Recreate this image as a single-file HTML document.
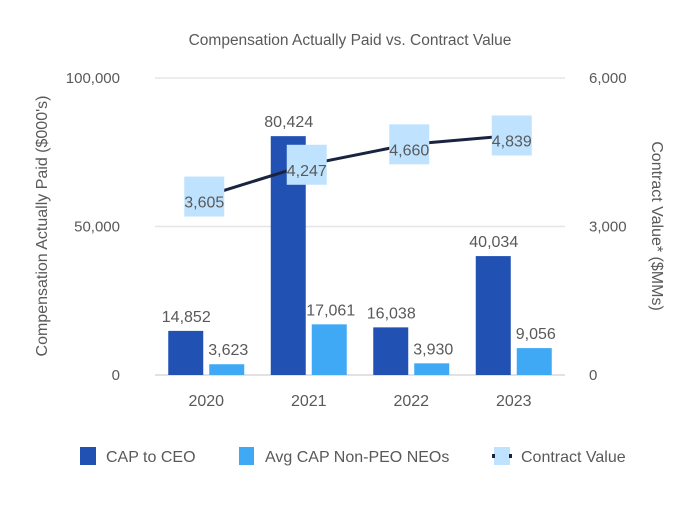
<!DOCTYPE html>
<html><head><meta charset="utf-8"><style>
body{margin:0;background:#fff;}
svg text{font-family:"Liberation Sans",sans-serif;fill:#595959;}
</style></head><body>
<svg id="c" width="700" height="500">
<text x="350" y="45" text-anchor="middle" font-size="15.5">Compensation Actually Paid vs. Contract Value</text>
<text transform="translate(47,226) rotate(-90)" text-anchor="middle" font-size="16">Compensation Actually Paid ($000's)</text>
<text transform="translate(652,226) rotate(90)" text-anchor="middle" font-size="16">Contract Value* ($MMs)</text>
<g id="grid"></g><g id="bars"></g><g id="line"></g><g id="labels"></g>
<g>
<rect x="80" y="447" width="16" height="18" fill="#2152b3"/>
<text x="106" y="462" font-size="16">CAP to CEO</text>
<rect x="239" y="447" width="15" height="18" fill="#3fa9f5"/>
<text x="265" y="462" font-size="16">Avg CAP Non-PEO NEOs</text>
<rect x="494" y="447" width="16" height="18" fill="#bfe3ff"/>
<rect x="492" y="454" width="3" height="4" fill="#1a2340"/>
<rect x="509" y="454" width="3" height="4" fill="#1a2340"/>
<text x="521" y="462" font-size="16">Contract Value</text>
</g>
</svg>
<script>
const categories=["2020","2021","2022","2023"];
const ceo=[14852,80424,16038,40034];
const neo=[3623,17061,3930,9056];
const contract=[3605,4247,4660,4839];
const leftTicks=[0,50000,100000];
const rightTicks=[0,3000,6000];
const NS="http://www.w3.org/2000/svg";
const x0=155,x1=565,yb=375,yt=78,band=(x1-x0)/categories.length;
const yL=v=>yb-(v/100000)*(yb-yt);
const yR=v=>yb-(v/6000)*(yb-yt);
const cx=i=>x0+band*(i+0.5);
const fmt=v=>v.toLocaleString("en-US");
function mk(tag,attrs,parent,txt){const e=document.createElementNS(NS,tag);for(const k in attrs)e.setAttribute(k,attrs[k]);if(txt!=null)e.textContent=txt;document.getElementById(parent).appendChild(e);return e;}
leftTicks.forEach((t,i)=>{
 const g=mk("line",{x1:x0,x2:x1,y1:yL(t),y2:yL(t),stroke:t===0?"#d9d9d9":"#e6e6e6","stroke-width":1.5},"grid");
 
 
 const l=mk("text",{x:120,y:yL(t)+5,"text-anchor":"end","font-size":15},"grid",fmt(t));
 
 
});
rightTicks.forEach(t=>{
 const l=mk("text",{x:589,y:yR(t)+5,"text-anchor":"start","font-size":15},"grid",fmt(t));
 
 
});
categories.forEach((c,i)=>{
 const l=mk("text",{x:cx(i),y:406,"text-anchor":"middle","font-size":16},"grid",c);
 
 
 const b1=mk("rect",{x:cx(i)-38,y:yL(ceo[i]),width:35,height:yb-yL(ceo[i]),fill:"#2152b3"},"bars");
 
 
 const t1=mk("text",{x:cx(i)-20,y:yL(ceo[i])-9,"text-anchor":"middle","font-size":16},"bars",fmt(ceo[i]));
 
 
 const b2=mk("rect",{x:cx(i)+3,y:yL(neo[i]),width:35,height:yb-yL(neo[i]),fill:"#3fa9f5"},"bars");
 
 
 const t2=mk("text",{x:cx(i)+22,y:yL(neo[i])-9,"text-anchor":"middle","font-size":16},"bars",fmt(neo[i]));
 
 
});
const pts=contract.map((v,i)=>(cx(i)-2)+","+yR(v)).join(" ");
const pl=mk("polyline",{points:pts,fill:"none",stroke:"#1a2340","stroke-width":3},"line");


contract.forEach((v,i)=>{
 const r=mk("rect",{x:cx(i)-22,y:yR(v)-20,width:40,height:40,fill:"#bfe3ff"},"labels");
 
 
 const t=mk("text",{x:cx(i)-2,y:yR(v)+11,"text-anchor":"middle","font-size":16},"labels",fmt(v));
 
 
});
</script>
</body></html>
